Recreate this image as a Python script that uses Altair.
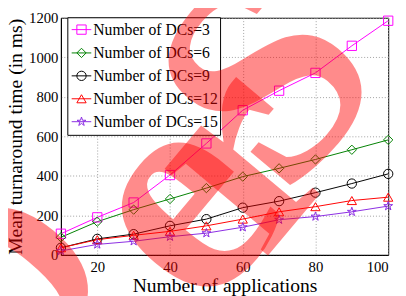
import altair as alt
import pandas as pd

apps = [10, 20, 30, 40, 50, 60, 70, 80, 90, 100]
dc3 = [107, 190, 265, 404, 564, 732, 831, 921, 1058, 1185]
dc6 = [89, 168, 229, 283, 338, 396, 438, 483, 532, 582]
dc9 = [36, 81, 105, 147, 181, 239, 272, 315, 361, 410]
dc12 = [36, 77, 99, 119, 147, 181, 218, 244, 275, 292]
dc15 = [20, 53, 69, 92, 110, 140, 178, 194, 218, 247]

series_names = ["Number of DCs=3", "Number of DCs=6", "Number of DCs=9",
                "Number of DCs=12", "Number of DCs=15"]
series_values = [dc3, dc6, dc9, dc12, dc15]
colors = ["#ff00ff", "#008000", "#000000", "#ff0000", "#8a2be2"]
star = ("M0,-1L0.2245,-0.309L0.951,-0.309L0.363,0.118L0.588,0.809L0,0.382"
        "L-0.588,0.809L-0.363,0.118L-0.951,-0.309L-0.2245,-0.309Z")
shapes = ["square", "diamond", "circle", "triangle-up", star]

x_ticks = [20, 40, 60, 80, 100]
y_ticks = [0, 200, 400, 600, 800, 1000, 1200]

# watermark letters (pixel positions inside the plot area)
wm_letters = ["D", "e", "r", "S"]
wm_px = [-52, 118, 180, 214]
wm_py = [282, 190, 140, 66]
wm_size = [250, 320, 300, 300]

rows = []
for name, vals in zip(series_names, series_values):
    for a, v in zip(apps, vals):
        rows.append({"apps": a, "time": v, "series": name})
df = pd.DataFrame(rows)

leg_y = [1140, 1022, 906, 790, 674]
leg = pd.DataFrame({"series": series_names, "ly": leg_y,
                    "lx1": [12.96] * 5, "lx2": [18.35] * 5,
                    "lxm": [15.66] * 5, "lxt": [18.9] * 5})
box = pd.DataFrame({"bx1": [11.9], "bx2": [53.9], "by1": [605], "by2": [1200]})
wm_df = pd.DataFrame({"t": wm_letters, "px": wm_px, "py": wm_py, "fs": wm_size})

xs = alt.Scale(domain=[10, 100], nice=False, zero=False)
ys = alt.Scale(domain=[0, 1200], nice=False)
cs = alt.Scale(domain=series_names, range=colors)
ss = alt.Scale(domain=series_names, range=shapes)

base = alt.Chart(df)
lines = base.mark_line(strokeWidth=1).encode(
    x=alt.X("apps:Q", scale=xs,
            axis=alt.Axis(values=x_ticks, title="Number of applications")),
    y=alt.Y("time:Q", scale=ys,
            axis=alt.Axis(values=y_ticks, format="d",
                          title="Mean turnaround time (in ms)")),
    color=alt.Color("series:N", scale=cs, legend=None),
    detail="series:N",
)
points = base.mark_point(filled=False, size=90, strokeWidth=1, opacity=1).encode(
    x=alt.X("apps:Q", scale=xs),
    y=alt.Y("time:Q", scale=ys),
    color=alt.Color("series:N", scale=cs, legend=None),
    shape=alt.Shape("series:N", scale=ss, legend=None),
)

legbox = alt.Chart(box).mark_rect(fill="white", stroke="black", strokeWidth=1).encode(
    x=alt.X("bx1:Q", scale=xs), x2="bx2", y=alt.Y("by1:Q", scale=ys), y2="by2")
legline = alt.Chart(leg).mark_rule(strokeWidth=1).encode(
    x=alt.X("lx1:Q", scale=xs), x2="lx2", y=alt.Y("ly:Q", scale=ys),
    color=alt.Color("series:N", scale=cs, legend=None))
legpt = alt.Chart(leg).mark_point(filled=False, size=90, strokeWidth=1, opacity=1).encode(
    x=alt.X("lxm:Q", scale=xs), y=alt.Y("ly:Q", scale=ys),
    color=alt.Color("series:N", scale=cs, legend=None),
    shape=alt.Shape("series:N", scale=ss, legend=None))
legtxt = alt.Chart(leg).mark_text(align="left", baseline="middle", font="Liberation Serif",
                                  fontSize=16, color="black").encode(
    x=alt.X("lxt:Q", scale=xs), y=alt.Y("ly:Q", scale=ys), text="series:N")

wm = alt.Chart(wm_df).mark_text(
    align="center", baseline="middle", font="Liberation Serif", fontWeight="bold",
    angle=310, color="#ff0000", opacity=0.45).encode(
    x=alt.X("px:Q", scale=None), y=alt.Y("py:Q", scale=None),
    size=alt.Size("fs:Q", scale=None, legend=None), text="t:N")

chart = alt.layer(lines, points, legbox, legline, legpt, legtxt, wm).properties(
    width=334, height=242,
    autosize=alt.AutoSizeParams(type="none"),
    padding={"left": 54, "top": 7, "right": 10, "bottom": 39},
).configure_view(stroke="black", strokeWidth=1).configure_axis(
    labelFont="Liberation Serif", labelFontSize=15, labelColor="black",
    titleFont="Liberation Serif", titleFontSize=20, titleFontWeight="normal",
    titleColor="black", domainColor="black", tickSize=0, labelPadding=3,
    gridColor="#a0a0a0", gridDash=[1, 2], gridWidth=1,
).configure_axisX(titlePadding=1, labelPadding=5).configure_axisY(titlePadding=3)

chart.save("out.html", embed_options={"renderer": "svg", "actions": False})
